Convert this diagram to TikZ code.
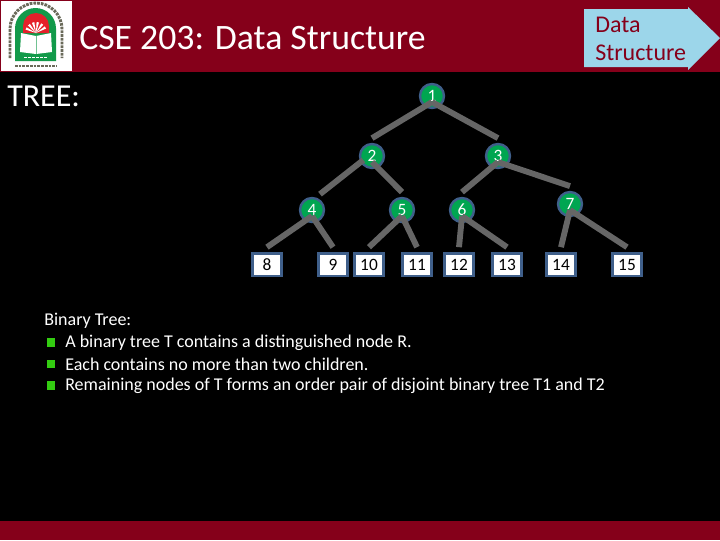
\documentclass[tikz,border=0pt]{standalone}
\usepackage{fontspec}
\setmainfont{Carlito}
\usetikzlibrary{calc}
\definecolor{slidered}{HTML}{85001A}
\definecolor{arrowblue}{HTML}{9CD6EA}
\definecolor{nodegreen}{HTML}{00A651}
\definecolor{nodeblue}{HTML}{3F5F8A}
\definecolor{branchgray}{HTML}{666666}
\definecolor{bulletgreen}{HTML}{33CC11}
\definecolor{logogreen}{HTML}{129A4A}
\definecolor{logored}{HTML}{E5202A}
\definecolor{logoink}{HTML}{6A6A5A}
\tikzset{
    treenode/.style={circle, fill=nodegreen, draw=nodeblue, line width=1.8pt, minimum size=18pt, inner sep=0pt, text=white, font=\fontsize{13}{13}\selectfont},
    leafnode/.style={rectangle, fill=white, draw=nodeblue, line width=2pt, minimum width=22pt, minimum height=17pt, inner sep=0pt, text=black, font=\fontsize{13}{13}\selectfont},
    branch/.style={branchgray, line width=4.4pt},
    bulletline/.style={anchor=west, text=white, inner sep=0pt, font=\fontsize{13.5}{13.5}\selectfont},
    bulletmark/.style={fill=bulletgreen, minimum size=6.5pt, inner sep=0pt},
    logoring/.style={logoink, line width=2.2pt, dash pattern=on 2pt off 0.8pt}
}
\begin{document}
\begin{tikzpicture}[x=0.75pt, y=-0.75pt]
    \useasboundingbox (0,0) rectangle (720,540);

    %background and bars
        \fill[black] (0,0) rectangle (720,540);
        \fill[slidered] (0,0) rectangle (720,72);
        \fill[slidered] (0,521) rectangle (720,540);

    %logo
        \fill[white] (1,1) rectangle (72,71);
        \draw[logoring] (10,58) -- (10,29) arc (180:360:26) -- (62,58);
        \draw[logoring, line width=1.8pt] (15,66) -- (57,66);
        \fill[logogreen] (15,61) -- (15,28.5) arc (180:360:20.5) -- (56,61) -- cycle;
        \fill[logored] (23,33) -- (23,26) arc (180:360:13) -- (49,33) -- cycle;
        \foreach \ang in {-30,-55,...,-155}
            \fill[white] (36,33) -- ++(\ang-7:11) -- ++(\ang+90:2.5) -- cycle;
        \fill[white] (21,33) -- (36,36) -- (51,33) -- (52,52) -- (36,54) -- (20,52) -- cycle;
        \draw[logogreen!60, line width=0.4pt] (36,36) -- (36,54);
        \draw[white, line width=1pt, dash pattern=on 2pt off 1pt] (24,57.5) -- (47,57.5);

    %title texts
        \node[anchor=west, text=white, inner sep=0pt, font=\fontsize{26.8}{26.8}\selectfont] (title) at (79,38) {CSE 203: Data Structure};
        \node[anchor=west, text=white, inner sep=0pt, font=\fontsize{24}{24}\selectfont] (tree) at (7,96) {TREE:};

    %arrow box
        \fill[arrowblue] (584,9) -- (688,9) -- (688,7) -- (720,38) -- (688,70) -- (688,67) -- (584,67) -- cycle;
        \node[anchor=west, text=slidered, inner sep=0pt, font=\fontsize{18}{18}\selectfont] (data) at (595,25) {Data};
        \node[anchor=west, text=slidered, inner sep=0pt, font=\fontsize{18}{18}\selectfont] (structure) at (595,53) {Structure};

    %tree nodes
        \node[treenode] (n1) at (432,96) {1};
        \node[treenode] (n2) at (372,156) {2};
        \node[treenode] (n3) at (498,156) {3};
        \node[treenode] (n4) at (312,210) {4};
        \node[treenode] (n5) at (402,210) {5};
        \node[treenode] (n6) at (462,210) {6};
        \node[treenode] (n7) at (570,204) {7};
        \foreach \name/\posx in {8/267, 9/333, 10/369, 11/417, 12/459, 13/507, 14/561, 15/627}
            \node[leafnode] (n\name) at (\posx,264.5) {\name};

    %branches
        \foreach \from/\to in {n1/n2, n1/n3, n2/n5, n3/n6, n3/n7, n4/n8, n4/n9, n5/n10, n5/n11, n6/n12, n6/n13, n7/n14, n7/n15}
            \draw[branch] ([yshift=-4.5pt]\from.center) -- ([yshift=3.5pt]\to.north);
        \draw[branch] ([xshift=-6.5pt,yshift=-3pt]n2.center) -- ([xshift=6pt,yshift=2pt]n4.north);

    %text block
        \node[bulletline] (head) at (44,320.5) {Binary Tree:};
        \node[bulletline] (line1) at (65,342.5) {A binary tree T contains a distinguished node R.};
        \node[bulletline] (line2) at (65,364) {Each contains no more than two children.};
        \node[bulletline] (line3) at (65,385.5) {Remaining nodes of T forms an order pair of disjoint binary tree T1 and T2};
        \node[bulletmark] (mark1) at (51,342.5) {};
        \node[bulletmark] (mark2) at (51,364) {};
        \node[bulletmark] (mark3) at (51,385.5) {};
\end{tikzpicture}
\end{document}
